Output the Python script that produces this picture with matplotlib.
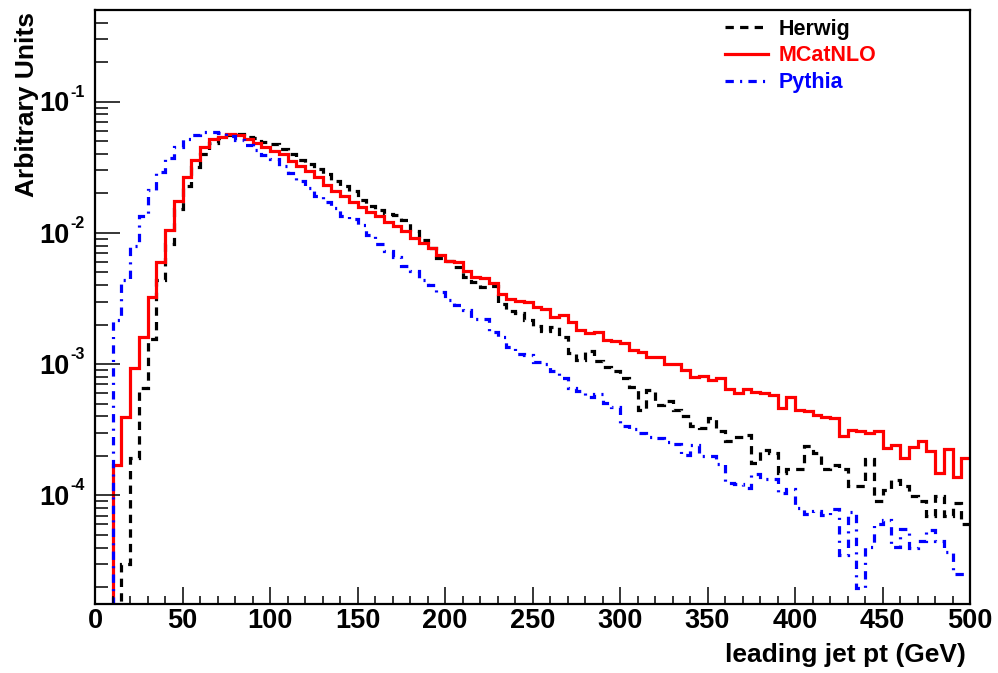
import numpy as np
import matplotlib
matplotlib.use("Agg")
import matplotlib.pyplot as plt
import matplotlib.transforms as mtransforms
from matplotlib.ticker import FixedLocator, LogLocator, MultipleLocator, NullFormatter

# ---------------- data ----------------
pt_low, pt_high, bin_width = 0, 500, 5
edges = np.arange(pt_low, pt_high + bin_width, bin_width)

herwig = [
    0, 0, 0, 3.0e-5, 1.92e-4, 6.6e-4, 1.55e-3, 4.4e-3, 8.3e-3, 1.52e-2,
    2.28e-2, 3.16e-2, 3.97e-2, 4.82e-2, 5.3e-2, 5.6e-2, 5.65e-2, 5.4e-2, 5.25e-2, 4.95e-2,
    4.75e-2, 4.35e-2, 4.0e-2, 3.6e-2, 3.35e-2, 3.05e-2, 2.82e-2, 2.5e-2, 2.28e-2, 2.07e-2,
    1.78e-2, 1.61e-2, 1.5e-2, 1.4e-2, 1.36e-2, 1.26e-2, 1.03e-2, 8.9e-3, 7.64e-3, 6.4e-3,
    6.12e-3, 5.53e-3, 4.65e-3, 4.24e-3, 3.9e-3, 3.93e-3, 2.86e-3, 2.56e-3, 2.47e-3, 2.17e-3,
    1.97e-3, 1.79e-3, 1.91e-3, 1.6e-3, 1.21e-3, 1.08e-3, 1.27e-3, 1.05e-3, 9.5e-4, 8.8e-4,
    7.8e-4, 6.7e-4, 4.45e-4, 6.3e-4, 4.9e-4, 5.2e-4, 4.5e-4, 4.05e-4, 3.4e-4, 3.25e-4,
    3.88e-4, 3.07e-4, 2.58e-4, 2.78e-4, 2.9e-4, 1.78e-4, 2.2e-4, 2.12e-4, 1.48e-4, 1.58e-4,
    1.58e-4, 2.39e-4, 2.1e-4, 1.58e-4, 1.71e-4, 1.6e-4, 1.18e-4, 1.18e-4, 1.89e-4, 9.0e-5,
    1.09e-4, 1.3e-4, 1.18e-4, 9.9e-5, 9.0e-5, 7.0e-5, 9.9e-5, 7.0e-5, 8.8e-5, 6.0e-5,
]

mcatnlo = [
    0, 0, 1.69e-4, 3.99e-4, 9.3e-4, 1.6e-3, 3.24e-3, 6.0e-3, 1.05e-2, 1.75e-2,
    2.65e-2, 3.6e-2, 4.54e-2, 5.2e-2, 5.42e-2, 5.65e-2, 5.6e-2, 5.23e-2, 4.87e-2, 4.49e-2,
    4.24e-2, 4.0e-2, 3.56e-2, 3.26e-2, 2.99e-2, 2.69e-2, 2.32e-2, 2.07e-2, 1.91e-2, 1.73e-2,
    1.57e-2, 1.45e-2, 1.35e-2, 1.22e-2, 1.12e-2, 1.04e-2, 9.1e-3, 8.4e-3, 7.64e-3, 6.8e-3,
    6.12e-3, 5.98e-3, 5.16e-3, 4.65e-3, 4.52e-3, 4.19e-3, 3.43e-3, 3.14e-3, 3.05e-3, 3.0e-3,
    2.72e-3, 2.62e-3, 2.28e-3, 2.38e-3, 2.09e-3, 1.82e-3, 1.72e-3, 1.77e-3, 1.53e-3, 1.49e-3,
    1.44e-3, 1.29e-3, 1.23e-3, 1.13e-3, 1.13e-3, 1.0e-3, 1.0e-3, 9.05e-4, 7.96e-4, 8.19e-4,
    7.59e-4, 7.91e-4, 6.45e-4, 6.08e-4, 6.45e-4, 6.18e-4, 6.08e-4, 5.83e-4, 4.62e-4, 5.66e-4,
    4.49e-4, 4.36e-4, 4.11e-4, 3.95e-4, 3.88e-4, 2.84e-4, 3.16e-4, 3.1e-4, 2.98e-4, 3.1e-4,
    2.29e-4, 2.43e-4, 1.92e-4, 2.33e-4, 2.61e-4, 2.16e-4, 1.48e-4, 2.26e-4, 1.39e-4, 1.92e-4,
]

pythia = [
    0, 0, 2.17e-3, 4.4e-3, 7.96e-3, 1.35e-2, 2.13e-2, 2.93e-2, 3.7e-2, 4.5e-2,
    5.17e-2, 5.6e-2, 5.9e-2, 5.85e-2, 5.75e-2, 5.5e-2, 5.15e-2, 4.68e-2, 4.25e-2, 3.93e-2,
    3.65e-2, 3.24e-2, 2.88e-2, 2.5e-2, 2.19e-2, 1.91e-2, 1.73e-2, 1.56e-2, 1.35e-2, 1.27e-2,
    1.15e-2, 9.66e-3, 8.3e-3, 7.3e-3, 6.53e-3, 5.6e-3, 5.1e-3, 4.4e-3, 4.02e-3, 3.57e-3,
    3.09e-3, 2.83e-3, 2.59e-3, 2.22e-3, 2.2e-3, 1.77e-3, 1.62e-3, 1.36e-3, 1.2e-3, 1.18e-3,
    1.04e-3, 1.0e-3, 8.8e-4, 7.8e-4, 6.56e-4, 6.29e-4, 5.66e-4, 5.94e-4, 5.05e-4, 4.7e-4,
    3.35e-4, 3.2e-4, 2.98e-4, 2.81e-4, 2.73e-4, 2.53e-4, 2.47e-4, 2.04e-4, 2.4e-4, 2.0e-4,
    2.0e-4, 1.74e-4, 1.24e-4, 1.23e-4, 1.14e-4, 1.45e-4, 1.33e-4, 1.33e-4, 1.04e-4, 1.12e-4,
    8.0e-5, 7.24e-5, 7.54e-5, 7.11e-5, 7.9e-5, 3.53e-5, 7.41e-5, 1.97e-5, 4.04e-5, 6.08e-5,
    6.45e-5, 4.04e-5, 5.54e-5, 3.97e-5, 4.46e-5, 5.47e-5, 4.46e-5, 3.7e-5, 2.5e-5, 2.5e-5,
]

series_names = ["Herwig", "MCatNLO", "Pythia"]
decade_ticks = [1e-4, 1e-3, 1e-2, 1e-1]
decade_base = "10"
decade_exponents = ["-4", "-3", "-2", "-1"]
x_ticks = [0, 50, 100, 150, 200, 250, 300, 350, 400, 450, 500]
x_label = "leading jet pt (GeV)"
y_label = "Arbitrary Units"

# ---------------- style ----------------
plt.rcParams["font.family"] = ["Liberation Sans", "DejaVu Sans"]
plt.rcParams["font.weight"] = "bold"
plt.rcParams["lines.scale_dashes"] = False

fig = plt.figure(figsize=(9.98, 6.73), dpi=100)
W, H = 998, 673
ax_l, ax_r, ax_t, ax_b = 95, 970, 10, 603.5
ax = fig.add_axes([ax_l / W, 1 - ax_b / H, (ax_r - ax_l) / W, (ax_b - ax_t) / H])

ax.set_yscale("log")
ax.set_xlim(pt_low, pt_high)
ax.set_ylim(1.5e-5, 0.5)

styles = [
    dict(color="black", linestyle=(0, (6, 4.5))),
    dict(color="#ff0000", linestyle="-"),
    dict(color="#0000ff", linestyle=(0, (6, 4.5, 1.5, 4.5))),
]
for vals, name, st in zip([herwig, mcatnlo, pythia], series_names, styles):
    ax.stairs(vals, edges, baseline=None, linewidth=2.3, label=name, **st)

# ticks
ax.xaxis.set_major_locator(FixedLocator(x_ticks))
ax.xaxis.set_minor_locator(MultipleLocator(10))
ax.yaxis.set_major_locator(FixedLocator(decade_ticks))
ax.yaxis.set_major_formatter(NullFormatter())
ax.yaxis.set_minor_locator(LogLocator(base=10, subs=np.arange(2, 10), numticks=20))
ax.yaxis.set_minor_formatter(NullFormatter())
ax.tick_params(axis="x", which="major", direction="in", length=12, width=1.1,
               labelsize=19.5, pad=3, top=False)
ax.tick_params(axis="x", which="minor", direction="in", length=6, width=1.1, top=False)
ax.tick_params(axis="y", which="major", direction="in", length=18, width=1.1, right=False)
ax.tick_params(axis="y", which="minor", direction="in", length=9, width=1.1, right=False)
for lab in ax.get_xticklabels():
    lab.set_fontweight("bold")
for sp in ax.spines.values():
    sp.set_linewidth(1.6)

# ROOT-style y tick labels: "10" with a small raised exponent
ytrans = mtransforms.blended_transform_factory(ax.transAxes, ax.transData)
for val, ex in zip(decade_ticks, decade_exponents):
    ax.annotate(decade_base, xy=(0, val), xycoords=ytrans, xytext=(-18.2, -7.0),
                textcoords="offset points", ha="right", va="baseline",
                fontsize=19.5, fontweight="bold", annotation_clip=False)
    ax.annotate(ex, xy=(0, val), xycoords=ytrans, xytext=(-17.8, 3.6),
                textcoords="offset points", ha="left", va="baseline",
                fontsize=11.5, fontweight="bold", annotation_clip=False)

fig.text(27 / W, 1 - 12 / H, y_label, rotation=90, ha="center", va="top",
         fontsize=19, fontweight="bold")
fig.text(966 / W, 1 - 662 / H, x_label, ha="right", va="baseline",
         fontsize=19, fontweight="bold")

leg = ax.legend(loc="upper left", bbox_to_anchor=(0.72, 0.985), frameon=False,
                prop=dict(size=15.5, weight="bold"), handlelength=2.0, handletextpad=0.5,
                labelspacing=0.26, borderpad=0, borderaxespad=0, labelcolor="linecolor")

fig.savefig("out.png", dpi=100, facecolor="white")
